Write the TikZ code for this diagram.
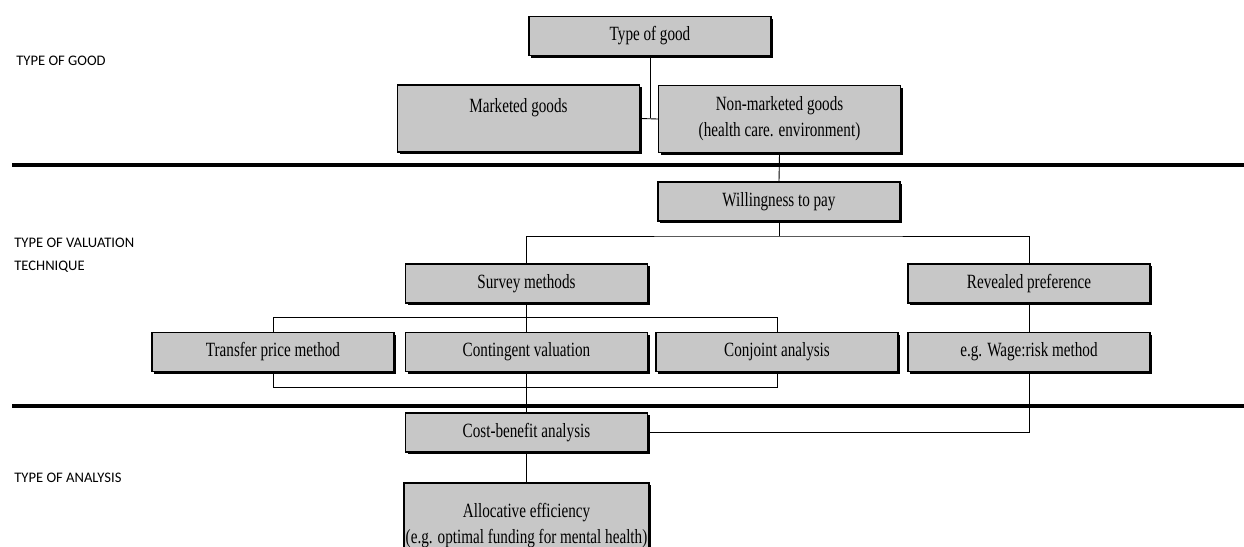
\documentclass[tikz,border=0pt]{standalone}
\usepackage{fontspec}
\setmainfont{Liberation Serif}
\newfontfamily\stagefont{Liberation Serif}[FakeStretch=0.75]
\newfontfamily\lanefont{Carlito}
\usepackage{tikz}
\usetikzlibrary{shadows}

\begin{document}
\begin{tikzpicture}[x=0.02cm, y=-0.02cm,
    stage/.style={draw, line width=0.7pt, fill=fondoB, minimum width=4.84cm, minimum height=0.78cm,
        inner sep=1pt, align=center, font=\stagefont\fontsize{11.5}{14.8}\selectfont,
        drop shadow={shadow xshift=1.2pt, shadow yshift=-1.2pt, fill=black, opacity=1}},
    tall/.style={minimum height=1.34cm},
    lane/.style={anchor=west, align=left, inner sep=0pt, font=\lanefont\fontsize{8.3}{13}\selectfont},
    rule/.style={line width=2.2pt},
    link/.style={line width=0.5pt}]
        \colorlet{fondoB}{black!22}
        \useasboundingbox (0,0) rectangle (1244,547);
        % row labels
        \node[lane] (lgood) at (16,61) {TYPE OF GOOD};
        \node[lane] (lvalue) at (14,255.5) {TYPE OF VALUATION\\TECHNIQUE};
        \node[lane] (lanalysis) at (14,478) {TYPE OF ANALYSIS};
        % separators
        \draw[rule] (12,165) -- (1244,165);
        \draw[rule] (12,406) -- (1244,406);
        % boxes
        \node[stage] (good) at (650,36) {Type of good};
        \node[stage, tall] (market) at (518.5,118.5) {Marketed goods\\\mbox{}};
        \node[stage, tall] (nonmarket) at (779.5,119) {Non-marketed goods\\(health care. environment)};
        \node[stage] (wtp) at (779,201.5) {Willingness to pay};
        \node[stage] (survey) at (526.5,283.5) {Survey methods};
        \node[stage] (revealed) at (1029,283.5) {Revealed preference};
        \node[stage] (transfer) at (273,352) {Transfer price method};
        \node[stage] (contingent) at (526.5,352) {Contingent valuation};
        \node[stage] (conjoint) at (777,352) {Conjoint analysis};
        \node[stage] (wage) at (1029,352) {e.g. Wage:risk method};
        \node[stage] (cba) at (526.5,432.5) {Cost-benefit analysis};
        \node[stage, minimum height=1.72cm] (alloc) at (526.5,526) {Allocative efficiency\\(e.g. optimal funding for mental health)};
        \coordinate (wtpjoin) at (779,236);
        % connectors
        \draw[link] (good.south) -- (good.south |- market.east);
        \draw[link] (market.east) -- (nonmarket.west);
        \draw[link] (nonmarket.south) -- (wtp.north);
        \draw[link] (wtp.south) -- (wtpjoin);
        \draw[link] (survey.north) |- (wtpjoin) -| (revealed.north);
        \draw[link] (survey.south) -- (contingent.north);
        \draw[link] (transfer.north) -- ++(0,-14) -| (conjoint.north);
        \draw[link] (transfer.south) -- ++(0,15) -| (conjoint.south);
        \draw[link] (revealed.south) -- (wage.north);
        \draw[link] (contingent.south) -- (cba.north);
        \draw[link] (wage.south) |- (cba.east);
        \draw[link] (cba.south) -- (alloc.north);
    \end{tikzpicture}
\end{document}
